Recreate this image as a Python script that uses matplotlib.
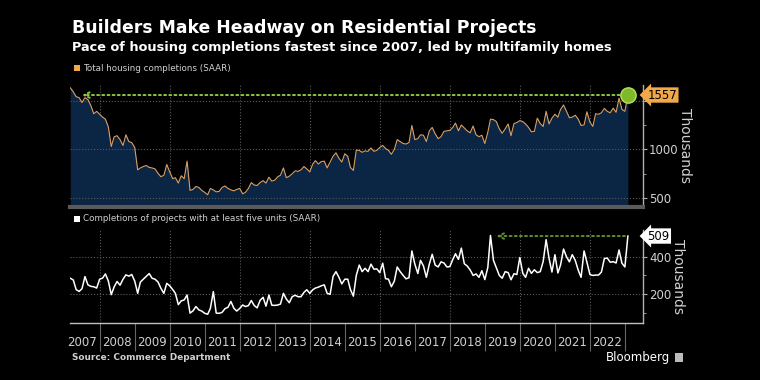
import numpy as np
import pandas as pd
import matplotlib
matplotlib.use("Agg")
import matplotlib.pyplot as plt
from matplotlib.ticker import MultipleLocator, FixedFormatter

# monthly, Mar 2007 .. Feb 2023, thousands of units (SAAR)
total = [
    1631, 1590, 1540, 1530, 1480, 1530, 1510, 1450, 1365, 1390, 1360, 1330,
    1310, 1230, 1030, 1130, 1140, 1100, 1040, 1150, 1080, 1070, 1020, 790,
    810, 825, 835, 815, 810, 800, 755, 720, 735, 845, 770, 700,
    710, 655, 730, 700, 880, 580, 590, 620, 610, 580, 560, 535,
    600, 585, 565, 570, 610, 625, 600, 585, 575, 590, 600, 545,
    560, 600, 660, 635, 630, 660, 680, 655, 715, 675, 685, 720,
    735, 810, 710, 725, 750, 780, 775, 790, 825, 800, 770, 850,
    885, 850, 875, 880, 810, 870, 930, 965, 910, 870, 955, 930,
    815, 785, 993, 990, 970, 985, 980, 1015, 980, 990, 1020, 1040,
    1010, 990, 950, 1000, 1100, 1080, 1060, 1055, 1070, 1245, 1100, 1110,
    1150, 1145, 1080, 1190, 1225, 1160, 1110, 1130, 1185, 1190, 1195, 1225,
    1270, 1190, 1250, 1220, 1190, 1170, 1240, 1150, 1130, 1145, 1060, 1175,
    1310, 1305, 1285, 1210, 1165, 1210, 1260, 1140, 1265, 1275, 1295, 1285,
    1260, 1225, 1180, 1185, 1320, 1265, 1235, 1390, 1260, 1320, 1360, 1330,
    1410, 1455, 1390, 1325, 1330, 1350, 1310, 1245, 1250, 1385, 1280, 1235,
    1365, 1360, 1375, 1420, 1390, 1375, 1423, 1380, 1525, 1410, 1390, 1557,
]
multi = [
    285, 276, 225, 215, 230, 294, 250, 242, 240, 233, 280, 286,
    308, 270, 198, 240, 268, 248, 280, 303, 296, 305, 270, 205,
    265, 280, 295, 310, 285, 280, 265, 232, 205, 258, 245, 225,
    205, 145, 165, 170, 196, 100, 112, 135, 117, 111, 99, 94,
    125, 214, 100, 99, 104, 124, 131, 162, 126, 111, 125, 143,
    135, 140, 167, 140, 128, 168, 184, 137, 196, 142, 141, 143,
    148, 205, 175, 155, 187, 195, 187, 187, 210, 224, 205, 224,
    233, 238, 245, 250, 205, 200, 295, 320, 290, 255, 280, 280,
    225, 190, 300, 355, 320, 338, 320, 360, 333, 335, 315, 365,
    283, 280, 240, 270, 345, 320, 300, 282, 288, 430, 360, 310,
    380, 350, 290, 360, 412, 355, 345, 372, 366, 345, 347, 385,
    415, 385, 445, 362, 350, 329, 300, 308, 290, 325, 278, 342,
    512, 380, 340, 300, 285, 320, 315, 277, 309, 305, 395, 311,
    290, 338, 311, 330, 315, 320, 375, 490, 390, 318, 410, 313,
    356, 440, 400, 372, 410, 380, 328, 290, 430, 370, 305, 300,
    302, 302, 318, 390, 392, 370, 373, 366, 435, 365, 345, 509,
]
dates = pd.date_range("2007-03-01", periods=len(total), freq="MS")
years = list(range(2007, 2023))
top_ticks = [500, 1000, 1500]
top_ticklabels = ["500", "1000", ""]  # 1500 sits under the 1557 tag
bot_ticks = [200, 400]

# where the "fastest since" arrows stop
top_arrow_to = 4
bot_arrow_to = 146

BG = "black"
TXT = "#d0d0d0"
GRID = "#5a5a5a"
FILL = "#0b2545"
LINE = "#d9a066"
GREEN_TOP = "#8dc63f"
GREEN_BOT = "#5e8f2a"

fig = plt.figure(figsize=(7.6, 3.8), dpi=100, facecolor=BG)
ax1 = fig.add_axes([0.0925, 0.4553, 0.7532, 0.3211], facecolor=BG)
ax2 = fig.add_axes([0.0925, 0.1492, 0.7532, 0.2455], facecolor=BG)

xmin, xmax = dates[0], pd.Timestamp("2023-07-06")
grid_years = pd.date_range("2008-01-01", "2022-01-01", freq="2YS")

for ax in (ax1, ax2):
    ax.set_xlim(xmin, xmax)
    ax.yaxis.tick_right()
    ax.yaxis.set_label_position("right")
    for s in ("left", "top"):
        ax.spines[s].set_visible(False)
    ax.spines["right"].set_color("#b0b0b0")
    ax.spines["right"].set_linewidth(1)
    ax.tick_params(axis="y", which="major", colors="#b0b0b0", labelcolor=TXT,
                   labelsize=8.5, length=3, pad=1.5)
    ax.tick_params(axis="y", which="minor", colors="#b0b0b0", length=2)
    ax.grid(axis="y", which="major", ls=":", color=GRID, lw=0.8)
    for g in grid_years:
        ax.axvline(g, ls=":", color=GRID, lw=0.8, zorder=0.5)
    ax.set_ylabel("Thousands", color=TXT, fontsize=10, rotation=270, labelpad=10)

# top panel
ax1.fill_between(dates, total, 0, color=FILL, lw=0, zorder=1)
ax1.plot(dates, total, color=LINE, lw=0.8, zorder=2)
ax1.set_ylim(410, 1660)
ax1.set_yticks(top_ticks)
ax1.set_yticklabels(top_ticklabels)
ax1.yaxis.set_minor_locator(MultipleLocator(250))
ax1.set_xticks([])
ax1.spines["bottom"].set_color("#5a5a5a")
ax1.spines["bottom"].set_linewidth(3)

ax1.annotate("", xy=(dates[top_arrow_to], total[-1]), xytext=(dates[-1], total[-1]),
             arrowprops=dict(arrowstyle="->", ls=":", color=GREEN_TOP, lw=1.4,
                             shrinkA=6, shrinkB=0), zorder=4)
ax1.plot(dates[-1], total[-1], "o", ms=11, mfc="#7fb82a", mec="#b8e35c",
         mew=1, ls="none", zorder=5)
ax1.annotate(f"{total[-1]}", xy=(1, total[-1]), xycoords=("axes fraction", "data"),
             xytext=(3.5, 0), textcoords="offset points", va="center", ha="left",
             fontsize=8.5, color="black", annotation_clip=False, zorder=6,
             bbox=dict(boxstyle="larrow,pad=0.1", fc="#f0a848", ec="none"))

# bottom panel
ax2.plot(dates, multi, color="white", lw=1.1, zorder=2)
ax2.set_ylim(46, 541)
ax2.set_yticks(bot_ticks)
ax2.yaxis.set_minor_locator(MultipleLocator(100))
ax2.spines["bottom"].set_color("#c0c0c0")
ax2.spines["bottom"].set_linewidth(1)

ax2.set_xticks(pd.to_datetime([f"{y + 1}-01-01" for y in years]))
ax2.set_xticks(pd.to_datetime([f"{y}-07-01" for y in years]), minor=True)
ax2.set_xticklabels([], minor=False)
ax2.set_xticklabels([str(y) for y in years], minor=True)
ax2.tick_params(axis="x", which="major", direction="out", length=20, color="#666666", width=0.8)
ax2.tick_params(axis="x", which="minor", length=0, pad=9, labelsize=8.5, labelcolor=TXT)

ax2.annotate("", xy=(dates[bot_arrow_to], multi[-1]), xytext=(dates[-2], multi[-1]),
             arrowprops=dict(arrowstyle="->", ls=":", color=GREEN_BOT, lw=1.4,
                             shrinkA=0, shrinkB=0), zorder=4)
ax2.annotate(f"{multi[-1]}", xy=(1, multi[-1]), xycoords=("axes fraction", "data"),
             xytext=(3.5, 0), textcoords="offset points", va="center", ha="left",
             fontsize=8.5, color="black", annotation_clip=False, zorder=6,
             bbox=dict(boxstyle="larrow,pad=0.1", fc="white", ec="none"))

# titles, legends, footer
fig.text(0.0947, 0.913, "Builders Make Headway on Residential Projects",
         color="white", fontsize=12.4, fontweight="bold", va="baseline")
fig.text(0.0947, 0.866, "Pace of housing completions fastest since 2007, led by multifamily homes",
         color="white", fontsize=9.3, fontweight="bold", va="baseline")

fig.patches.append(plt.Rectangle((0.0975, 0.813), 0.0075, 0.015, transform=fig.transFigure,
                                 fc="#f0a848", ec="none"))
fig.text(0.1092, 0.821, "Total housing completions (SAAR)", color=TXT, fontsize=6.3, va="center")
fig.patches.append(plt.Rectangle((0.0975, 0.416), 0.0075, 0.015, transform=fig.transFigure,
                                 fc="white", ec="none"))
fig.text(0.1092, 0.424, "Completions of projects with at least five units (SAAR)",
         color=TXT, fontsize=6.3, va="center")

fig.text(0.0947, 0.06, "Source: Commerce Department", color=TXT, fontsize=6.4,
         fontweight="bold", va="center")
fig.text(0.882, 0.06, "Bloomberg", color="white", fontsize=8.5, va="center", ha="right")
fig.patches.append(plt.Rectangle((0.888, 0.048), 0.011, 0.024, transform=fig.transFigure,
                                 fc="#bbbbbb", ec="none"))

fig.savefig("out.png", dpi=100, facecolor=BG)
